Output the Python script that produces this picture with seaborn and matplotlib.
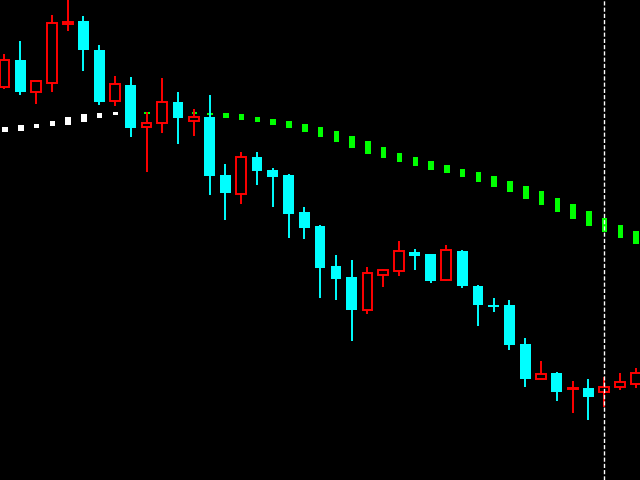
import numpy as np
import pandas as pd
import matplotlib
matplotlib.use('Agg')
import matplotlib.pyplot as plt
import seaborn as sns

# candles, price units (screen height from bottom)
opens  = [393, 420, 388, 397, 456, 459, 430, 379, 395, 353, 357, 378, 359, 363, 305, 286, 323, 310, 305, 268,
          254, 214, 203, 170, 205, 209, 228, 226, 200, 229, 194, 175, 175, 136, 101, 107, 91, 92, 88, 93, 96]
highs  = [426, 439, 399, 465, 483, 464, 435, 404, 403, 368, 402, 388, 371, 385, 316, 328, 328, 312, 306, 273,
          255, 225, 220, 213, 211, 239, 231, 226, 235, 230, 195, 182, 180, 142, 119, 108, 99, 101, 103, 107, 112]
lows   = [391, 385, 376, 388, 449, 409, 375, 374, 343, 308, 347, 336, 344, 285, 260, 276, 295, 273, 242, 241,
          182, 180, 139, 166, 193, 204, 210, 197, 199, 192, 154, 168, 130, 93, 101, 79, 67, 60, 73, 90, 92]
closes = [420, 388, 399, 457, 458, 430, 378, 396, 352, 357, 378, 362, 363, 304, 287, 323, 309, 303, 266, 252,
          212, 201, 170, 207, 210, 229, 224, 199, 230, 194, 175, 173, 135, 101, 106, 88, 92, 83, 93, 98, 107]

# indicator dots (top / bottom), first 8 white then green
dot_top = [353, 355, 356, 359, 363, 366, 367, 368, 368, 368, 368, 368, 368, 367, 367, 366, 363, 361, 359, 356,
           353, 349, 344, 339, 333, 327, 323, 319, 315, 311, 308, 304, 299, 294, 289, 282, 276, 269, 262, 255, 249]
dot_bot = [348, 349, 352, 354, 355, 358, 362, 365, 365, 366, 365, 365, 366, 365, 362, 360, 358, 355, 352, 348,
           343, 338, 332, 326, 322, 318, 314, 310, 307, 303, 298, 293, 288, 281, 275, 268, 261, 254, 248, 242, 236]
n_white = 8
marker_bar = 38

df = pd.DataFrame({'open': opens, 'high': highs, 'low': lows, 'close': closes,
                   'dtop': dot_top, 'dbot': dot_bot})
df['i'] = np.arange(len(df))
up = df[df['close'] >= df['open']]
dn = df[df['close'] < df['open']]

sns.set_style('dark', {'axes.facecolor': 'black', 'figure.facecolor': 'black'})
fig = plt.figure(figsize=(6.4, 4.8), dpi=100)
ax = fig.add_axes([0, 0, 1, 1])

# indicator
dcol = ['white' if k < n_white else '#00ff00' for k in df['i']]
ax.bar(df['i'] + 0.03, df['dtop'] - df['dbot'], bottom=df['dbot'], width=0.35,
       color=dcol, linewidth=0, zorder=1)

# wicks
ax.vlines(up['i'], up['low'], up['high'], color='red', linewidth=1.4, zorder=2)
ax.vlines(dn['i'], dn['low'], dn['high'], color='#00ffff', linewidth=1.4, zorder=2)

# bodies
ax.bar(up['i'], (up['close'] - up['open']).clip(lower=1), bottom=up['open'], width=0.62,
       facecolor='black', edgecolor='red', linewidth=1.4, zorder=3)
ax.bar(dn['i'], dn['open'] - dn['close'], bottom=dn['close'], width=0.68,
       color='#00ffff', linewidth=0, zorder=3)

ax.axvline(marker_bar, color='white', linestyle=(0, (3, 1.5)), linewidth=1.0, zorder=4)

ax.set_xlim(-0.285, 40.27)
ax.set_ylim(0, 480)
ax.axis('off')
fig.savefig('out.png', dpi=100, facecolor='black')
